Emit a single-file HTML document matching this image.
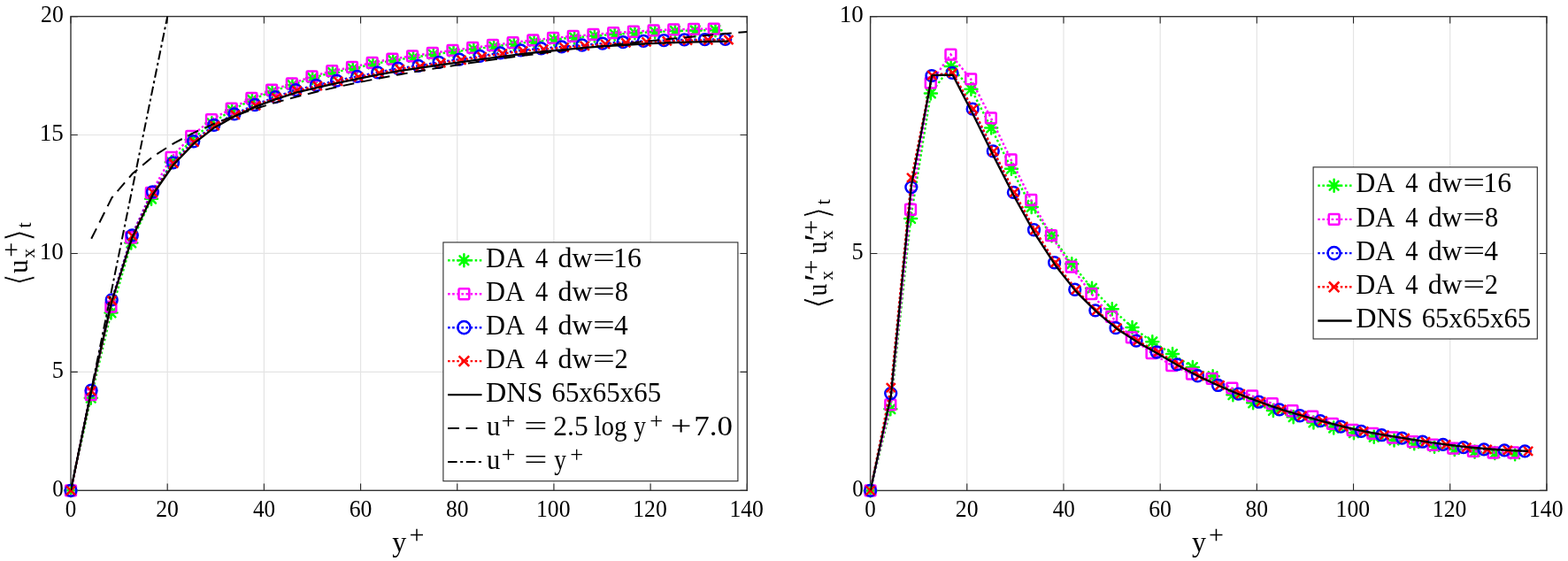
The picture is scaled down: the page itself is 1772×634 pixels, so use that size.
<!DOCTYPE html>
<html><head><meta charset="utf-8"><title>plots</title><style>html,body{margin:0;padding:0;background:#fff;}svg{display:block;}</style></head><body>
<svg width="1772" height="634" viewBox="0 0 1772 634">
<defs>
<clipPath id="clipL"><rect x="80" y="18.6" width="764.3" height="535.7"/></clipPath>
<clipPath id="clipR"><rect x="983.6" y="18.7" width="764.3" height="535.7"/></clipPath>
</defs>
<rect width="1772" height="634" fill="#fff"/>
<path d="M189.19 18.6V554.3M298.37 18.6V554.3M407.56 18.6V554.3M516.74 18.6V554.3M625.93 18.6V554.3M735.11 18.6V554.3M80 420.38H844.3M80 286.45H844.3M80 152.52H844.3" stroke="#e4e4e4" stroke-width="1.2" fill="none"/>
<path d="M80 554.3V546.5M80 18.6V26.4M189.19 554.3V546.5M189.19 18.6V26.4M298.37 554.3V546.5M298.37 18.6V26.4M407.56 554.3V546.5M407.56 18.6V26.4M516.74 554.3V546.5M516.74 18.6V26.4M625.93 554.3V546.5M625.93 18.6V26.4M735.11 554.3V546.5M735.11 18.6V26.4M844.3 554.3V546.5M844.3 18.6V26.4M80 554.3H87.8M844.3 554.3H836.5M80 420.38H87.8M844.3 420.38H836.5M80 286.45H87.8M844.3 286.45H836.5M80 152.52H87.8M844.3 152.52H836.5M80 18.6H87.8M844.3 18.6H836.5" stroke="#262626" stroke-width="1.1" fill="none"/>
<rect x="80" y="18.6" width="764.3" height="535.7" fill="none" stroke="#333" stroke-width="1.4"/>
<path d="M80 554.3L102.77 449.84L125.53 353.41L148.3 274.4L171.06 224.84L193.83 183.33L216.59 157.88L239.36 139.13L262.12 124.4L284.89 112.62L307.65 103.24L330.42 96.01L353.18 87.97L375.95 81.81L398.71 77.53L421.48 72.44L444.24 68.15L467.01 64.94L489.77 61.46L512.54 58.51L535.3 55.56L558.07 52.62L580.83 49.67L603.6 46.99L626.37 44.58L649.13 42.44L671.9 40.56L694.66 38.69L717.43 37.35L740.19 36.01L762.96 34.94L785.72 34.4L808.49 34.14" fill="none" stroke="#00ff00" stroke-width="2.4" stroke-dasharray="2.5 2.6" clip-path="url(#clipL)"/>
<path d="M80 547.3V561.3M73 554.3H87M75.1 549.4L84.9 559.2M75.1 559.2L84.9 549.4" stroke="#00ff00" stroke-width="2.5" stroke-linecap="round" fill="none"/>
<path d="M102.77 442.84V456.84M95.77 449.84H109.77M97.87 444.94L107.67 454.74M97.87 454.74L107.67 444.94" stroke="#00ff00" stroke-width="2.5" stroke-linecap="round" fill="none"/>
<path d="M125.53 346.41V360.41M118.53 353.41H132.53M120.63 348.51L130.43 358.31M120.63 358.31L130.43 348.51" stroke="#00ff00" stroke-width="2.5" stroke-linecap="round" fill="none"/>
<path d="M148.3 267.4V281.4M141.3 274.4H155.3M143.4 269.5L153.2 279.3M143.4 279.3L153.2 269.5" stroke="#00ff00" stroke-width="2.5" stroke-linecap="round" fill="none"/>
<path d="M171.06 217.84V231.84M164.06 224.84H178.06M166.16 219.94L175.96 229.74M166.16 229.74L175.96 219.94" stroke="#00ff00" stroke-width="2.5" stroke-linecap="round" fill="none"/>
<path d="M193.83 176.33V190.33M186.83 183.33H200.83M188.93 178.43L198.73 188.23M188.93 188.23L198.73 178.43" stroke="#00ff00" stroke-width="2.5" stroke-linecap="round" fill="none"/>
<path d="M216.59 150.88V164.88M209.59 157.88H223.59M211.69 152.98L221.49 162.78M211.69 162.78L221.49 152.98" stroke="#00ff00" stroke-width="2.5" stroke-linecap="round" fill="none"/>
<path d="M239.36 132.13V146.13M232.36 139.13H246.36M234.46 134.23L244.26 144.03M234.46 144.03L244.26 134.23" stroke="#00ff00" stroke-width="2.5" stroke-linecap="round" fill="none"/>
<path d="M262.12 117.4V131.4M255.12 124.4H269.12M257.22 119.5L267.02 129.3M257.22 129.3L267.02 119.5" stroke="#00ff00" stroke-width="2.5" stroke-linecap="round" fill="none"/>
<path d="M284.89 105.62V119.62M277.89 112.62H291.89M279.99 107.72L289.79 117.52M279.99 117.52L289.79 107.72" stroke="#00ff00" stroke-width="2.5" stroke-linecap="round" fill="none"/>
<path d="M307.65 96.24V110.24M300.65 103.24H314.65M302.75 98.34L312.55 108.14M302.75 108.14L312.55 98.34" stroke="#00ff00" stroke-width="2.5" stroke-linecap="round" fill="none"/>
<path d="M330.42 89.01V103.01M323.42 96.01H337.42M325.52 91.11L335.32 100.91M325.52 100.91L335.32 91.11" stroke="#00ff00" stroke-width="2.5" stroke-linecap="round" fill="none"/>
<path d="M353.18 80.97V94.97M346.18 87.97H360.18M348.28 83.07L358.08 92.87M348.28 92.87L358.08 83.07" stroke="#00ff00" stroke-width="2.5" stroke-linecap="round" fill="none"/>
<path d="M375.95 74.81V88.81M368.95 81.81H382.95M371.05 76.91L380.85 86.71M371.05 86.71L380.85 76.91" stroke="#00ff00" stroke-width="2.5" stroke-linecap="round" fill="none"/>
<path d="M398.71 70.53V84.53M391.71 77.53H405.71M393.81 72.63L403.61 82.43M393.81 82.43L403.61 72.63" stroke="#00ff00" stroke-width="2.5" stroke-linecap="round" fill="none"/>
<path d="M421.48 65.44V79.44M414.48 72.44H428.48M416.58 67.54L426.38 77.34M416.58 77.34L426.38 67.54" stroke="#00ff00" stroke-width="2.5" stroke-linecap="round" fill="none"/>
<path d="M444.24 61.15V75.15M437.24 68.15H451.24M439.34 63.25L449.14 73.05M439.34 73.05L449.14 63.25" stroke="#00ff00" stroke-width="2.5" stroke-linecap="round" fill="none"/>
<path d="M467.01 57.94V71.94M460.01 64.94H474.01M462.11 60.04L471.91 69.84M462.11 69.84L471.91 60.04" stroke="#00ff00" stroke-width="2.5" stroke-linecap="round" fill="none"/>
<path d="M489.77 54.46V68.46M482.77 61.46H496.77M484.87 56.56L494.67 66.36M484.87 66.36L494.67 56.56" stroke="#00ff00" stroke-width="2.5" stroke-linecap="round" fill="none"/>
<path d="M512.54 51.51V65.51M505.54 58.51H519.54M507.64 53.61L517.44 63.41M507.64 63.41L517.44 53.61" stroke="#00ff00" stroke-width="2.5" stroke-linecap="round" fill="none"/>
<path d="M535.3 48.56V62.56M528.3 55.56H542.3M530.4 50.66L540.2 60.46M530.4 60.46L540.2 50.66" stroke="#00ff00" stroke-width="2.5" stroke-linecap="round" fill="none"/>
<path d="M558.07 45.62V59.62M551.07 52.62H565.07M553.17 47.72L562.97 57.52M553.17 57.52L562.97 47.72" stroke="#00ff00" stroke-width="2.5" stroke-linecap="round" fill="none"/>
<path d="M580.83 42.67V56.67M573.83 49.67H587.83M575.93 44.77L585.73 54.57M575.93 54.57L585.73 44.77" stroke="#00ff00" stroke-width="2.5" stroke-linecap="round" fill="none"/>
<path d="M603.6 39.99V53.99M596.6 46.99H610.6M598.7 42.09L608.5 51.89M598.7 51.89L608.5 42.09" stroke="#00ff00" stroke-width="2.5" stroke-linecap="round" fill="none"/>
<path d="M626.37 37.58V51.58M619.37 44.58H633.37M621.47 39.68L631.27 49.48M621.47 49.48L631.27 39.68" stroke="#00ff00" stroke-width="2.5" stroke-linecap="round" fill="none"/>
<path d="M649.13 35.44V49.44M642.13 42.44H656.13M644.23 37.54L654.03 47.34M644.23 47.34L654.03 37.54" stroke="#00ff00" stroke-width="2.5" stroke-linecap="round" fill="none"/>
<path d="M671.9 33.56V47.56M664.9 40.56H678.9M667 35.66L676.8 45.46M667 45.46L676.8 35.66" stroke="#00ff00" stroke-width="2.5" stroke-linecap="round" fill="none"/>
<path d="M694.66 31.69V45.69M687.66 38.69H701.66M689.76 33.79L699.56 43.59M689.76 43.59L699.56 33.79" stroke="#00ff00" stroke-width="2.5" stroke-linecap="round" fill="none"/>
<path d="M717.43 30.35V44.35M710.43 37.35H724.43M712.53 32.45L722.33 42.25M712.53 42.25L722.33 32.45" stroke="#00ff00" stroke-width="2.5" stroke-linecap="round" fill="none"/>
<path d="M740.19 29.01V43.01M733.19 36.01H747.19M735.29 31.11L745.09 40.91M735.29 40.91L745.09 31.11" stroke="#00ff00" stroke-width="2.5" stroke-linecap="round" fill="none"/>
<path d="M762.96 27.94V41.94M755.96 34.94H769.96M758.06 30.04L767.86 39.84M758.06 39.84L767.86 30.04" stroke="#00ff00" stroke-width="2.5" stroke-linecap="round" fill="none"/>
<path d="M785.72 27.4V41.4M778.72 34.4H792.72M780.82 29.5L790.62 39.3M780.82 39.3L790.62 29.5" stroke="#00ff00" stroke-width="2.5" stroke-linecap="round" fill="none"/>
<path d="M808.49 27.14V41.14M801.49 34.14H815.49M803.59 29.24L813.39 39.04M803.59 39.04L813.39 29.24" stroke="#00ff00" stroke-width="2.5" stroke-linecap="round" fill="none"/>
<path d="M80 554.3L102.71 446.09L125.42 346.72L148.13 268.24L170.84 217.88L193.55 177.97L216.26 153.86L238.97 135.11L261.69 122.53L284.4 111.01L307.11 101.63L329.82 94.4L352.53 86.37L375.24 80.21L397.95 75.92L420.66 70.83L443.37 66.55L466.08 63.33L488.79 59.85L511.5 56.9L534.21 53.96L556.92 51.01L579.63 48.06L602.34 45.38L625.06 42.97L647.77 40.83L670.48 38.96L693.19 37.08L715.9 35.74L738.61 34.4L761.32 33.33L784.03 32.8L806.74 32.53" fill="none" stroke="#ff00ff" stroke-width="2.4" stroke-dasharray="2.5 2.6" clip-path="url(#clipL)"/>
<rect x="74.1" y="548.4" width="11.8" height="11.8" rx="1" fill="none" stroke="#ff00ff" stroke-width="2.5"/>
<rect x="96.81" y="440.19" width="11.8" height="11.8" rx="1" fill="none" stroke="#ff00ff" stroke-width="2.5"/>
<rect x="119.52" y="340.82" width="11.8" height="11.8" rx="1" fill="none" stroke="#ff00ff" stroke-width="2.5"/>
<rect x="142.23" y="262.34" width="11.8" height="11.8" rx="1" fill="none" stroke="#ff00ff" stroke-width="2.5"/>
<rect x="164.94" y="211.98" width="11.8" height="11.8" rx="1" fill="none" stroke="#ff00ff" stroke-width="2.5"/>
<rect x="187.65" y="172.07" width="11.8" height="11.8" rx="1" fill="none" stroke="#ff00ff" stroke-width="2.5"/>
<rect x="210.36" y="147.96" width="11.8" height="11.8" rx="1" fill="none" stroke="#ff00ff" stroke-width="2.5"/>
<rect x="233.07" y="129.21" width="11.8" height="11.8" rx="1" fill="none" stroke="#ff00ff" stroke-width="2.5"/>
<rect x="255.79" y="116.63" width="11.8" height="11.8" rx="1" fill="none" stroke="#ff00ff" stroke-width="2.5"/>
<rect x="278.5" y="105.11" width="11.8" height="11.8" rx="1" fill="none" stroke="#ff00ff" stroke-width="2.5"/>
<rect x="301.21" y="95.73" width="11.8" height="11.8" rx="1" fill="none" stroke="#ff00ff" stroke-width="2.5"/>
<rect x="323.92" y="88.5" width="11.8" height="11.8" rx="1" fill="none" stroke="#ff00ff" stroke-width="2.5"/>
<rect x="346.63" y="80.47" width="11.8" height="11.8" rx="1" fill="none" stroke="#ff00ff" stroke-width="2.5"/>
<rect x="369.34" y="74.31" width="11.8" height="11.8" rx="1" fill="none" stroke="#ff00ff" stroke-width="2.5"/>
<rect x="392.05" y="70.02" width="11.8" height="11.8" rx="1" fill="none" stroke="#ff00ff" stroke-width="2.5"/>
<rect x="414.76" y="64.93" width="11.8" height="11.8" rx="1" fill="none" stroke="#ff00ff" stroke-width="2.5"/>
<rect x="437.47" y="60.65" width="11.8" height="11.8" rx="1" fill="none" stroke="#ff00ff" stroke-width="2.5"/>
<rect x="460.18" y="57.43" width="11.8" height="11.8" rx="1" fill="none" stroke="#ff00ff" stroke-width="2.5"/>
<rect x="482.89" y="53.95" width="11.8" height="11.8" rx="1" fill="none" stroke="#ff00ff" stroke-width="2.5"/>
<rect x="505.6" y="51" width="11.8" height="11.8" rx="1" fill="none" stroke="#ff00ff" stroke-width="2.5"/>
<rect x="528.31" y="48.06" width="11.8" height="11.8" rx="1" fill="none" stroke="#ff00ff" stroke-width="2.5"/>
<rect x="551.02" y="45.11" width="11.8" height="11.8" rx="1" fill="none" stroke="#ff00ff" stroke-width="2.5"/>
<rect x="573.73" y="42.16" width="11.8" height="11.8" rx="1" fill="none" stroke="#ff00ff" stroke-width="2.5"/>
<rect x="596.44" y="39.48" width="11.8" height="11.8" rx="1" fill="none" stroke="#ff00ff" stroke-width="2.5"/>
<rect x="619.16" y="37.07" width="11.8" height="11.8" rx="1" fill="none" stroke="#ff00ff" stroke-width="2.5"/>
<rect x="641.87" y="34.93" width="11.8" height="11.8" rx="1" fill="none" stroke="#ff00ff" stroke-width="2.5"/>
<rect x="664.58" y="33.06" width="11.8" height="11.8" rx="1" fill="none" stroke="#ff00ff" stroke-width="2.5"/>
<rect x="687.29" y="31.18" width="11.8" height="11.8" rx="1" fill="none" stroke="#ff00ff" stroke-width="2.5"/>
<rect x="710" y="29.84" width="11.8" height="11.8" rx="1" fill="none" stroke="#ff00ff" stroke-width="2.5"/>
<rect x="732.71" y="28.5" width="11.8" height="11.8" rx="1" fill="none" stroke="#ff00ff" stroke-width="2.5"/>
<rect x="755.42" y="27.43" width="11.8" height="11.8" rx="1" fill="none" stroke="#ff00ff" stroke-width="2.5"/>
<rect x="778.13" y="26.9" width="11.8" height="11.8" rx="1" fill="none" stroke="#ff00ff" stroke-width="2.5"/>
<rect x="800.84" y="26.63" width="11.8" height="11.8" rx="1" fill="none" stroke="#ff00ff" stroke-width="2.5"/>
<path d="M80 554.3L103.11 441.27L126.23 338.95L149.34 265.83L172.46 216.81L195.57 183.86L218.69 159.76L241.8 141.28L264.92 128.95L288.03 118.51L311.15 109.67L334.26 101.63L357.38 96.28L380.49 91.19L403.6 86.37L426.72 81.81L449.83 77.26L472.95 74.31L496.06 70.3L519.18 67.08L542.29 63.33L565.41 59.85L588.52 56.9L611.64 54.76L634.75 52.88L657.87 51.01L680.98 49.13L704.09 47.53L727.21 46.46L750.32 45.65L773.44 44.85L796.55 44.58L819.67 44.31" fill="none" stroke="#0000ff" stroke-width="2.4" stroke-dasharray="2.5 2.6" clip-path="url(#clipL)"/>
<circle cx="80" cy="554.3" r="6.4" fill="none" stroke="#0000ff" stroke-width="2.5"/>
<circle cx="103.11" cy="441.27" r="6.4" fill="none" stroke="#0000ff" stroke-width="2.5"/>
<circle cx="126.23" cy="338.95" r="6.4" fill="none" stroke="#0000ff" stroke-width="2.5"/>
<circle cx="149.34" cy="265.83" r="6.4" fill="none" stroke="#0000ff" stroke-width="2.5"/>
<circle cx="172.46" cy="216.81" r="6.4" fill="none" stroke="#0000ff" stroke-width="2.5"/>
<circle cx="195.57" cy="183.86" r="6.4" fill="none" stroke="#0000ff" stroke-width="2.5"/>
<circle cx="218.69" cy="159.76" r="6.4" fill="none" stroke="#0000ff" stroke-width="2.5"/>
<circle cx="241.8" cy="141.28" r="6.4" fill="none" stroke="#0000ff" stroke-width="2.5"/>
<circle cx="264.92" cy="128.95" r="6.4" fill="none" stroke="#0000ff" stroke-width="2.5"/>
<circle cx="288.03" cy="118.51" r="6.4" fill="none" stroke="#0000ff" stroke-width="2.5"/>
<circle cx="311.15" cy="109.67" r="6.4" fill="none" stroke="#0000ff" stroke-width="2.5"/>
<circle cx="334.26" cy="101.63" r="6.4" fill="none" stroke="#0000ff" stroke-width="2.5"/>
<circle cx="357.38" cy="96.28" r="6.4" fill="none" stroke="#0000ff" stroke-width="2.5"/>
<circle cx="380.49" cy="91.19" r="6.4" fill="none" stroke="#0000ff" stroke-width="2.5"/>
<circle cx="403.6" cy="86.37" r="6.4" fill="none" stroke="#0000ff" stroke-width="2.5"/>
<circle cx="426.72" cy="81.81" r="6.4" fill="none" stroke="#0000ff" stroke-width="2.5"/>
<circle cx="449.83" cy="77.26" r="6.4" fill="none" stroke="#0000ff" stroke-width="2.5"/>
<circle cx="472.95" cy="74.31" r="6.4" fill="none" stroke="#0000ff" stroke-width="2.5"/>
<circle cx="496.06" cy="70.3" r="6.4" fill="none" stroke="#0000ff" stroke-width="2.5"/>
<circle cx="519.18" cy="67.08" r="6.4" fill="none" stroke="#0000ff" stroke-width="2.5"/>
<circle cx="542.29" cy="63.33" r="6.4" fill="none" stroke="#0000ff" stroke-width="2.5"/>
<circle cx="565.41" cy="59.85" r="6.4" fill="none" stroke="#0000ff" stroke-width="2.5"/>
<circle cx="588.52" cy="56.9" r="6.4" fill="none" stroke="#0000ff" stroke-width="2.5"/>
<circle cx="611.64" cy="54.76" r="6.4" fill="none" stroke="#0000ff" stroke-width="2.5"/>
<circle cx="634.75" cy="52.88" r="6.4" fill="none" stroke="#0000ff" stroke-width="2.5"/>
<circle cx="657.87" cy="51.01" r="6.4" fill="none" stroke="#0000ff" stroke-width="2.5"/>
<circle cx="680.98" cy="49.13" r="6.4" fill="none" stroke="#0000ff" stroke-width="2.5"/>
<circle cx="704.09" cy="47.53" r="6.4" fill="none" stroke="#0000ff" stroke-width="2.5"/>
<circle cx="727.21" cy="46.46" r="6.4" fill="none" stroke="#0000ff" stroke-width="2.5"/>
<circle cx="750.32" cy="45.65" r="6.4" fill="none" stroke="#0000ff" stroke-width="2.5"/>
<circle cx="773.44" cy="44.85" r="6.4" fill="none" stroke="#0000ff" stroke-width="2.5"/>
<circle cx="796.55" cy="44.58" r="6.4" fill="none" stroke="#0000ff" stroke-width="2.5"/>
<circle cx="819.67" cy="44.31" r="6.4" fill="none" stroke="#0000ff" stroke-width="2.5"/>
<path d="M80 554.3L103.23 441.8L126.47 339.75L149.7 266.63L172.94 217.61L196.17 184.67L219.41 160.56L242.64 142.08L265.88 129.76L289.11 119.31L312.35 110.47L335.58 102.44L358.82 97.08L382.05 91.99L405.29 87.17L428.52 82.62L451.76 78.06L474.99 75.12L498.22 71.1L521.46 67.88L544.69 64.13L567.93 60.65L591.16 57.71L614.4 55.56L637.63 53.69L660.87 51.81L684.1 49.94L707.34 48.33L730.57 47.26L753.81 46.46L777.04 45.65L800.28 45.38L823.51 45.12" fill="none" stroke="#ff0000" stroke-width="2.4" stroke-dasharray="2.5 2.6" clip-path="url(#clipL)"/>
<path d="M75 549.3L85 559.3M75 559.3L85 549.3" stroke="#ff0000" stroke-width="2.5" fill="none"/>
<path d="M98.23 436.8L108.23 446.8M98.23 446.8L108.23 436.8" stroke="#ff0000" stroke-width="2.5" fill="none"/>
<path d="M121.47 334.75L131.47 344.75M121.47 344.75L131.47 334.75" stroke="#ff0000" stroke-width="2.5" fill="none"/>
<path d="M144.7 261.63L154.7 271.63M144.7 271.63L154.7 261.63" stroke="#ff0000" stroke-width="2.5" fill="none"/>
<path d="M167.94 212.61L177.94 222.61M167.94 222.61L177.94 212.61" stroke="#ff0000" stroke-width="2.5" fill="none"/>
<path d="M191.17 179.67L201.17 189.67M191.17 189.67L201.17 179.67" stroke="#ff0000" stroke-width="2.5" fill="none"/>
<path d="M214.41 155.56L224.41 165.56M214.41 165.56L224.41 155.56" stroke="#ff0000" stroke-width="2.5" fill="none"/>
<path d="M237.64 137.08L247.64 147.08M237.64 147.08L247.64 137.08" stroke="#ff0000" stroke-width="2.5" fill="none"/>
<path d="M260.88 124.76L270.88 134.76M260.88 134.76L270.88 124.76" stroke="#ff0000" stroke-width="2.5" fill="none"/>
<path d="M284.11 114.31L294.11 124.31M284.11 124.31L294.11 114.31" stroke="#ff0000" stroke-width="2.5" fill="none"/>
<path d="M307.35 105.47L317.35 115.47M307.35 115.47L317.35 105.47" stroke="#ff0000" stroke-width="2.5" fill="none"/>
<path d="M330.58 97.44L340.58 107.44M330.58 107.44L340.58 97.44" stroke="#ff0000" stroke-width="2.5" fill="none"/>
<path d="M353.82 92.08L363.82 102.08M353.82 102.08L363.82 92.08" stroke="#ff0000" stroke-width="2.5" fill="none"/>
<path d="M377.05 86.99L387.05 96.99M377.05 96.99L387.05 86.99" stroke="#ff0000" stroke-width="2.5" fill="none"/>
<path d="M400.29 82.17L410.29 92.17M400.29 92.17L410.29 82.17" stroke="#ff0000" stroke-width="2.5" fill="none"/>
<path d="M423.52 77.62L433.52 87.62M423.52 87.62L433.52 77.62" stroke="#ff0000" stroke-width="2.5" fill="none"/>
<path d="M446.76 73.06L456.76 83.06M446.76 83.06L456.76 73.06" stroke="#ff0000" stroke-width="2.5" fill="none"/>
<path d="M469.99 70.12L479.99 80.12M469.99 80.12L479.99 70.12" stroke="#ff0000" stroke-width="2.5" fill="none"/>
<path d="M493.22 66.1L503.22 76.1M493.22 76.1L503.22 66.1" stroke="#ff0000" stroke-width="2.5" fill="none"/>
<path d="M516.46 62.88L526.46 72.88M516.46 72.88L526.46 62.88" stroke="#ff0000" stroke-width="2.5" fill="none"/>
<path d="M539.69 59.13L549.69 69.13M539.69 69.13L549.69 59.13" stroke="#ff0000" stroke-width="2.5" fill="none"/>
<path d="M562.93 55.65L572.93 65.65M562.93 65.65L572.93 55.65" stroke="#ff0000" stroke-width="2.5" fill="none"/>
<path d="M586.16 52.71L596.16 62.71M586.16 62.71L596.16 52.71" stroke="#ff0000" stroke-width="2.5" fill="none"/>
<path d="M609.4 50.56L619.4 60.56M609.4 60.56L619.4 50.56" stroke="#ff0000" stroke-width="2.5" fill="none"/>
<path d="M632.63 48.69L642.63 58.69M632.63 58.69L642.63 48.69" stroke="#ff0000" stroke-width="2.5" fill="none"/>
<path d="M655.87 46.81L665.87 56.81M655.87 56.81L665.87 46.81" stroke="#ff0000" stroke-width="2.5" fill="none"/>
<path d="M679.1 44.94L689.1 54.94M679.1 54.94L689.1 44.94" stroke="#ff0000" stroke-width="2.5" fill="none"/>
<path d="M702.34 43.33L712.34 53.33M702.34 53.33L712.34 43.33" stroke="#ff0000" stroke-width="2.5" fill="none"/>
<path d="M725.57 42.26L735.57 52.26M725.57 52.26L735.57 42.26" stroke="#ff0000" stroke-width="2.5" fill="none"/>
<path d="M748.81 41.46L758.81 51.46M748.81 51.46L758.81 41.46" stroke="#ff0000" stroke-width="2.5" fill="none"/>
<path d="M772.04 40.65L782.04 50.65M772.04 50.65L782.04 40.65" stroke="#ff0000" stroke-width="2.5" fill="none"/>
<path d="M795.28 40.38L805.28 50.38M795.28 50.38L805.28 40.38" stroke="#ff0000" stroke-width="2.5" fill="none"/>
<path d="M818.51 40.12L828.51 50.12M818.51 50.12L828.51 40.12" stroke="#ff0000" stroke-width="2.5" fill="none"/>
<path d="M80 554.3L103.23 441.8L126.47 340.02L149.7 267.7L172.94 219.49L196.17 186.01L219.41 161.9L242.64 143.95L265.88 131.1L289.11 120.38L312.35 111.81L335.58 104.31L358.82 98.95L382.05 93.6L405.29 88.78L428.52 84.22L451.76 80.21L474.99 76.72L498.22 73.24L521.46 70.03L544.69 66.81L567.93 63.87L591.16 60.92L614.4 58.24L637.63 56.1L660.87 53.96L684.1 52.08L707.34 50.74L730.57 49.4L753.81 48.33L777.04 47.53L800.28 46.99L823.51 46.72" fill="none" stroke="#000" stroke-width="2.3" stroke-linejoin="round" clip-path="url(#clipL)"/>
<path d="M103.23 269.82L126.47 223.41L149.7 196.26L172.94 176.99L196.17 162.05L219.41 149.84L242.64 139.52L265.88 130.58L289.11 122.69L312.35 115.63L335.58 109.25L358.82 103.43L382.05 98.07L405.29 93.1L428.52 88.48L451.76 84.16L474.99 80.1L498.22 76.27L521.46 72.65L544.69 69.22L567.93 65.95L591.16 62.84L614.4 59.86L637.63 57.01L660.87 54.28L684.1 51.65L707.34 49.12L730.57 46.69L753.81 44.34L777.04 42.07L800.28 39.87L823.51 37.75L844.3 35.9" fill="none" stroke="#000" stroke-width="2" stroke-dasharray="12.8 7.7" clip-path="url(#clipL)"/>
<path d="M80 554.3L191.92 5.21" fill="none" stroke="#000" stroke-width="2" stroke-dasharray="10.5 3.6 3 3.6" clip-path="url(#clipL)"/>
<text x="73.75" y="584" font-size="27" font-family="'Liberation Serif', serif" textLength="12.51" lengthAdjust="spacingAndGlyphs">0</text>
<text x="176.26" y="584" font-size="27" font-family="'Liberation Serif', serif" textLength="25.71" lengthAdjust="spacingAndGlyphs">20</text>
<text x="286.08" y="584" font-size="27" font-family="'Liberation Serif', serif" textLength="25.04" lengthAdjust="spacingAndGlyphs">40</text>
<text x="394.65" y="584" font-size="27" font-family="'Liberation Serif', serif" textLength="25.68" lengthAdjust="spacingAndGlyphs">60</text>
<text x="503.97" y="584" font-size="27" font-family="'Liberation Serif', serif" textLength="25.55" lengthAdjust="spacingAndGlyphs">80</text>
<text x="606.02" y="584" font-size="27" font-family="'Liberation Serif', serif" textLength="38.54" lengthAdjust="spacingAndGlyphs">100</text>
<text x="715.21" y="584" font-size="27" font-family="'Liberation Serif', serif" textLength="38.54" lengthAdjust="spacingAndGlyphs">120</text>
<text x="824.39" y="584" font-size="27" font-family="'Liberation Serif', serif" textLength="38.54" lengthAdjust="spacingAndGlyphs">140</text>
<text x="59.25" y="560.9" font-size="27" font-family="'Liberation Serif', serif" textLength="12.51" lengthAdjust="spacingAndGlyphs">0</text>
<text x="58.67" y="426.98" font-size="27" font-family="'Liberation Serif', serif" textLength="13.16" lengthAdjust="spacingAndGlyphs">5</text>
<text x="44.83" y="293.05" font-size="27" font-family="'Liberation Serif', serif" textLength="27" lengthAdjust="spacingAndGlyphs">10</text>
<text x="44.82" y="159.12" font-size="27" font-family="'Liberation Serif', serif" textLength="27.03" lengthAdjust="spacingAndGlyphs">15</text>
<text x="46.07" y="25.2" font-size="27" font-family="'Liberation Serif', serif" textLength="25.71" lengthAdjust="spacingAndGlyphs">20</text>
<path d="M1092.79 18.7V554.4M1201.97 18.7V554.4M1311.16 18.7V554.4M1420.34 18.7V554.4M1529.53 18.7V554.4M1638.71 18.7V554.4M983.6 286.55H1747.9" stroke="#e4e4e4" stroke-width="1.2" fill="none"/>
<path d="M983.6 554.4V546.6M983.6 18.7V26.5M1092.79 554.4V546.6M1092.79 18.7V26.5M1201.97 554.4V546.6M1201.97 18.7V26.5M1311.16 554.4V546.6M1311.16 18.7V26.5M1420.34 554.4V546.6M1420.34 18.7V26.5M1529.53 554.4V546.6M1529.53 18.7V26.5M1638.71 554.4V546.6M1638.71 18.7V26.5M1747.9 554.4V546.6M1747.9 18.7V26.5M983.6 554.4H991.4M1747.9 554.4H1740.1M983.6 286.55H991.4M1747.9 286.55H1740.1M983.6 18.7H991.4M1747.9 18.7H1740.1" stroke="#262626" stroke-width="1.1" fill="none"/>
<rect x="983.6" y="18.7" width="764.3" height="535.7" fill="none" stroke="#333" stroke-width="1.4"/>
<path d="M983.6 554.4L1006.37 462.26L1029.13 246.91L1051.9 105.48L1074.66 74.95L1097.43 100.66L1120.19 144.59L1142.96 190.66L1165.72 234.05L1188.49 266.19L1211.25 298.34L1234.02 325.66L1256.78 349.23L1279.55 370.12L1302.31 386.19L1325.08 400.12L1347.84 415.12L1370.61 425.3L1393.37 446.24L1416.14 455.36L1438.9 463.95L1461.67 471.3L1484.43 477.44L1507.2 483.6L1529.97 489.24L1552.73 493.85L1575.5 497.59L1598.26 501.33L1621.03 504.83L1643.79 507.99L1666.56 510.57L1689.32 512.11L1712.09 513.17" fill="none" stroke="#00ff00" stroke-width="2.4" stroke-dasharray="2.5 2.6" clip-path="url(#clipR)"/>
<path d="M983.6 547.4V561.4M976.6 554.4H990.6M978.7 549.5L988.5 559.3M978.7 559.3L988.5 549.5" stroke="#00ff00" stroke-width="2.5" stroke-linecap="round" fill="none"/>
<path d="M1006.37 455.26V469.26M999.37 462.26H1013.37M1001.47 457.36L1011.27 467.16M1001.47 467.16L1011.27 457.36" stroke="#00ff00" stroke-width="2.5" stroke-linecap="round" fill="none"/>
<path d="M1029.13 239.91V253.91M1022.13 246.91H1036.13M1024.23 242.01L1034.03 251.81M1024.23 251.81L1034.03 242.01" stroke="#00ff00" stroke-width="2.5" stroke-linecap="round" fill="none"/>
<path d="M1051.9 98.48V112.48M1044.9 105.48H1058.9M1047 100.58L1056.8 110.38M1047 110.38L1056.8 100.58" stroke="#00ff00" stroke-width="2.5" stroke-linecap="round" fill="none"/>
<path d="M1074.66 67.95V81.95M1067.66 74.95H1081.66M1069.76 70.05L1079.56 79.85M1069.76 79.85L1079.56 70.05" stroke="#00ff00" stroke-width="2.5" stroke-linecap="round" fill="none"/>
<path d="M1097.43 93.66V107.66M1090.43 100.66H1104.43M1092.53 95.76L1102.33 105.56M1092.53 105.56L1102.33 95.76" stroke="#00ff00" stroke-width="2.5" stroke-linecap="round" fill="none"/>
<path d="M1120.19 137.59V151.59M1113.19 144.59H1127.19M1115.29 139.69L1125.09 149.49M1115.29 149.49L1125.09 139.69" stroke="#00ff00" stroke-width="2.5" stroke-linecap="round" fill="none"/>
<path d="M1142.96 183.66V197.66M1135.96 190.66H1149.96M1138.06 185.76L1147.86 195.56M1138.06 195.56L1147.86 185.76" stroke="#00ff00" stroke-width="2.5" stroke-linecap="round" fill="none"/>
<path d="M1165.72 227.05V241.05M1158.72 234.05H1172.72M1160.82 229.15L1170.62 238.95M1160.82 238.95L1170.62 229.15" stroke="#00ff00" stroke-width="2.5" stroke-linecap="round" fill="none"/>
<path d="M1188.49 259.19V273.19M1181.49 266.19H1195.49M1183.59 261.29L1193.39 271.09M1183.59 271.09L1193.39 261.29" stroke="#00ff00" stroke-width="2.5" stroke-linecap="round" fill="none"/>
<path d="M1211.25 291.34V305.34M1204.25 298.34H1218.25M1206.35 293.44L1216.15 303.24M1206.35 303.24L1216.15 293.44" stroke="#00ff00" stroke-width="2.5" stroke-linecap="round" fill="none"/>
<path d="M1234.02 318.66V332.66M1227.02 325.66H1241.02M1229.12 320.76L1238.92 330.56M1229.12 330.56L1238.92 320.76" stroke="#00ff00" stroke-width="2.5" stroke-linecap="round" fill="none"/>
<path d="M1256.78 342.23V356.23M1249.78 349.23H1263.78M1251.88 344.33L1261.68 354.13M1251.88 354.13L1261.68 344.33" stroke="#00ff00" stroke-width="2.5" stroke-linecap="round" fill="none"/>
<path d="M1279.55 363.12V377.12M1272.55 370.12H1286.55M1274.65 365.22L1284.45 375.02M1274.65 375.02L1284.45 365.22" stroke="#00ff00" stroke-width="2.5" stroke-linecap="round" fill="none"/>
<path d="M1302.31 379.19V393.19M1295.31 386.19H1309.31M1297.41 381.29L1307.21 391.09M1297.41 391.09L1307.21 381.29" stroke="#00ff00" stroke-width="2.5" stroke-linecap="round" fill="none"/>
<path d="M1325.08 393.12V407.12M1318.08 400.12H1332.08M1320.18 395.22L1329.98 405.02M1320.18 405.02L1329.98 395.22" stroke="#00ff00" stroke-width="2.5" stroke-linecap="round" fill="none"/>
<path d="M1347.84 408.12V422.12M1340.84 415.12H1354.84M1342.94 410.22L1352.74 420.02M1342.94 420.02L1352.74 410.22" stroke="#00ff00" stroke-width="2.5" stroke-linecap="round" fill="none"/>
<path d="M1370.61 418.3V432.3M1363.61 425.3H1377.61M1365.71 420.4L1375.51 430.2M1365.71 430.2L1375.51 420.4" stroke="#00ff00" stroke-width="2.5" stroke-linecap="round" fill="none"/>
<path d="M1393.37 439.24V453.24M1386.37 446.24H1400.37M1388.47 441.34L1398.27 451.14M1388.47 451.14L1398.27 441.34" stroke="#00ff00" stroke-width="2.5" stroke-linecap="round" fill="none"/>
<path d="M1416.14 448.36V462.36M1409.14 455.36H1423.14M1411.24 450.46L1421.04 460.26M1411.24 460.26L1421.04 450.46" stroke="#00ff00" stroke-width="2.5" stroke-linecap="round" fill="none"/>
<path d="M1438.9 456.95V470.95M1431.9 463.95H1445.9M1434 459.05L1443.8 468.85M1434 468.85L1443.8 459.05" stroke="#00ff00" stroke-width="2.5" stroke-linecap="round" fill="none"/>
<path d="M1461.67 464.3V478.3M1454.67 471.3H1468.67M1456.77 466.4L1466.57 476.2M1456.77 476.2L1466.57 466.4" stroke="#00ff00" stroke-width="2.5" stroke-linecap="round" fill="none"/>
<path d="M1484.43 470.44V484.44M1477.43 477.44H1491.43M1479.53 472.54L1489.33 482.34M1479.53 482.34L1489.33 472.54" stroke="#00ff00" stroke-width="2.5" stroke-linecap="round" fill="none"/>
<path d="M1507.2 476.6V490.6M1500.2 483.6H1514.2M1502.3 478.7L1512.1 488.5M1502.3 488.5L1512.1 478.7" stroke="#00ff00" stroke-width="2.5" stroke-linecap="round" fill="none"/>
<path d="M1529.97 482.24V496.24M1522.97 489.24H1536.97M1525.07 484.34L1534.87 494.14M1525.07 494.14L1534.87 484.34" stroke="#00ff00" stroke-width="2.5" stroke-linecap="round" fill="none"/>
<path d="M1552.73 486.85V500.85M1545.73 493.85H1559.73M1547.83 488.95L1557.63 498.75M1547.83 498.75L1557.63 488.95" stroke="#00ff00" stroke-width="2.5" stroke-linecap="round" fill="none"/>
<path d="M1575.5 490.59V504.59M1568.5 497.59H1582.5M1570.6 492.69L1580.4 502.49M1570.6 502.49L1580.4 492.69" stroke="#00ff00" stroke-width="2.5" stroke-linecap="round" fill="none"/>
<path d="M1598.26 494.33V508.33M1591.26 501.33H1605.26M1593.36 496.43L1603.16 506.23M1593.36 506.23L1603.16 496.43" stroke="#00ff00" stroke-width="2.5" stroke-linecap="round" fill="none"/>
<path d="M1621.03 497.83V511.83M1614.03 504.83H1628.03M1616.13 499.93L1625.93 509.73M1616.13 509.73L1625.93 499.93" stroke="#00ff00" stroke-width="2.5" stroke-linecap="round" fill="none"/>
<path d="M1643.79 500.99V514.99M1636.79 507.99H1650.79M1638.89 503.09L1648.69 512.89M1638.89 512.89L1648.69 503.09" stroke="#00ff00" stroke-width="2.5" stroke-linecap="round" fill="none"/>
<path d="M1666.56 503.57V517.57M1659.56 510.57H1673.56M1661.66 505.67L1671.46 515.47M1661.66 515.47L1671.46 505.67" stroke="#00ff00" stroke-width="2.5" stroke-linecap="round" fill="none"/>
<path d="M1689.32 505.11V519.11M1682.32 512.11H1696.32M1684.42 507.21L1694.22 517.01M1684.42 517.01L1694.22 507.21" stroke="#00ff00" stroke-width="2.5" stroke-linecap="round" fill="none"/>
<path d="M1712.09 506.17V520.17M1705.09 513.17H1719.09M1707.19 508.27L1716.99 518.07M1707.19 518.07L1716.99 508.27" stroke="#00ff00" stroke-width="2.5" stroke-linecap="round" fill="none"/>
<path d="M983.6 554.4L1006.31 457.44L1029.02 236.73L1051.73 93.7L1074.44 61.56L1097.15 89.41L1119.86 133.34L1142.57 180.48L1165.29 226.02L1188 266.19L1210.71 301.55L1233.42 332.08L1256.13 357.8L1278.84 381.37L1301.55 399.05L1324.26 412.98L1346.97 422.62L1369.68 427.97L1392.39 438.6L1415.1 447.45L1437.81 456.05L1460.52 464.26L1483.23 470.71L1505.94 478.96L1528.66 485.99L1551.37 489.85L1574.08 494.48L1596.79 499.2L1619.5 502.74L1642.21 506.7L1664.92 509.88L1687.63 511.5L1710.34 511.48" fill="none" stroke="#ff00ff" stroke-width="2.4" stroke-dasharray="2.5 2.6" clip-path="url(#clipR)"/>
<rect x="977.7" y="548.5" width="11.8" height="11.8" rx="1" fill="none" stroke="#ff00ff" stroke-width="2.5"/>
<rect x="1000.41" y="451.54" width="11.8" height="11.8" rx="1" fill="none" stroke="#ff00ff" stroke-width="2.5"/>
<rect x="1023.12" y="230.83" width="11.8" height="11.8" rx="1" fill="none" stroke="#ff00ff" stroke-width="2.5"/>
<rect x="1045.83" y="87.8" width="11.8" height="11.8" rx="1" fill="none" stroke="#ff00ff" stroke-width="2.5"/>
<rect x="1068.54" y="55.66" width="11.8" height="11.8" rx="1" fill="none" stroke="#ff00ff" stroke-width="2.5"/>
<rect x="1091.25" y="83.51" width="11.8" height="11.8" rx="1" fill="none" stroke="#ff00ff" stroke-width="2.5"/>
<rect x="1113.96" y="127.44" width="11.8" height="11.8" rx="1" fill="none" stroke="#ff00ff" stroke-width="2.5"/>
<rect x="1136.67" y="174.58" width="11.8" height="11.8" rx="1" fill="none" stroke="#ff00ff" stroke-width="2.5"/>
<rect x="1159.39" y="220.12" width="11.8" height="11.8" rx="1" fill="none" stroke="#ff00ff" stroke-width="2.5"/>
<rect x="1182.1" y="260.29" width="11.8" height="11.8" rx="1" fill="none" stroke="#ff00ff" stroke-width="2.5"/>
<rect x="1204.81" y="295.65" width="11.8" height="11.8" rx="1" fill="none" stroke="#ff00ff" stroke-width="2.5"/>
<rect x="1227.52" y="326.18" width="11.8" height="11.8" rx="1" fill="none" stroke="#ff00ff" stroke-width="2.5"/>
<rect x="1250.23" y="351.9" width="11.8" height="11.8" rx="1" fill="none" stroke="#ff00ff" stroke-width="2.5"/>
<rect x="1272.94" y="375.47" width="11.8" height="11.8" rx="1" fill="none" stroke="#ff00ff" stroke-width="2.5"/>
<rect x="1295.65" y="393.15" width="11.8" height="11.8" rx="1" fill="none" stroke="#ff00ff" stroke-width="2.5"/>
<rect x="1318.36" y="407.08" width="11.8" height="11.8" rx="1" fill="none" stroke="#ff00ff" stroke-width="2.5"/>
<rect x="1341.07" y="416.72" width="11.8" height="11.8" rx="1" fill="none" stroke="#ff00ff" stroke-width="2.5"/>
<rect x="1363.78" y="422.07" width="11.8" height="11.8" rx="1" fill="none" stroke="#ff00ff" stroke-width="2.5"/>
<rect x="1386.49" y="432.7" width="11.8" height="11.8" rx="1" fill="none" stroke="#ff00ff" stroke-width="2.5"/>
<rect x="1409.2" y="441.55" width="11.8" height="11.8" rx="1" fill="none" stroke="#ff00ff" stroke-width="2.5"/>
<rect x="1431.91" y="450.15" width="11.8" height="11.8" rx="1" fill="none" stroke="#ff00ff" stroke-width="2.5"/>
<rect x="1454.62" y="458.36" width="11.8" height="11.8" rx="1" fill="none" stroke="#ff00ff" stroke-width="2.5"/>
<rect x="1477.33" y="464.81" width="11.8" height="11.8" rx="1" fill="none" stroke="#ff00ff" stroke-width="2.5"/>
<rect x="1500.04" y="473.06" width="11.8" height="11.8" rx="1" fill="none" stroke="#ff00ff" stroke-width="2.5"/>
<rect x="1522.76" y="480.09" width="11.8" height="11.8" rx="1" fill="none" stroke="#ff00ff" stroke-width="2.5"/>
<rect x="1545.47" y="483.95" width="11.8" height="11.8" rx="1" fill="none" stroke="#ff00ff" stroke-width="2.5"/>
<rect x="1568.18" y="488.58" width="11.8" height="11.8" rx="1" fill="none" stroke="#ff00ff" stroke-width="2.5"/>
<rect x="1590.89" y="493.3" width="11.8" height="11.8" rx="1" fill="none" stroke="#ff00ff" stroke-width="2.5"/>
<rect x="1613.6" y="496.84" width="11.8" height="11.8" rx="1" fill="none" stroke="#ff00ff" stroke-width="2.5"/>
<rect x="1636.31" y="500.8" width="11.8" height="11.8" rx="1" fill="none" stroke="#ff00ff" stroke-width="2.5"/>
<rect x="1659.02" y="503.98" width="11.8" height="11.8" rx="1" fill="none" stroke="#ff00ff" stroke-width="2.5"/>
<rect x="1681.73" y="505.6" width="11.8" height="11.8" rx="1" fill="none" stroke="#ff00ff" stroke-width="2.5"/>
<rect x="1704.44" y="505.58" width="11.8" height="11.8" rx="1" fill="none" stroke="#ff00ff" stroke-width="2.5"/>
<path d="M983.6 554.4L1006.71 444.58L1029.83 211.55L1052.94 85.66L1076.06 82.45L1099.17 123.16L1122.29 170.84L1145.4 217.44L1168.52 259.77L1191.63 296.73L1214.75 327.26L1237.86 350.83L1260.98 370.65L1284.09 385.12L1307.2 397.98L1330.32 411.9L1353.43 424.76L1376.55 435.47L1399.66 445.12L1422.78 454.22L1445.89 462.8L1469.01 469.76L1492.12 475.65L1515.24 482.08L1538.35 487.44L1561.47 491.72L1584.58 495.21L1607.69 499.22L1630.81 502.44L1653.92 505.65L1677.04 507.79L1700.15 508.87L1723.27 509.94" fill="none" stroke="#0000ff" stroke-width="2.4" stroke-dasharray="2.5 2.6" clip-path="url(#clipR)"/>
<circle cx="983.6" cy="554.4" r="6.4" fill="none" stroke="#0000ff" stroke-width="2.5"/>
<circle cx="1006.71" cy="444.58" r="6.4" fill="none" stroke="#0000ff" stroke-width="2.5"/>
<circle cx="1029.83" cy="211.55" r="6.4" fill="none" stroke="#0000ff" stroke-width="2.5"/>
<circle cx="1052.94" cy="85.66" r="6.4" fill="none" stroke="#0000ff" stroke-width="2.5"/>
<circle cx="1076.06" cy="82.45" r="6.4" fill="none" stroke="#0000ff" stroke-width="2.5"/>
<circle cx="1099.17" cy="123.16" r="6.4" fill="none" stroke="#0000ff" stroke-width="2.5"/>
<circle cx="1122.29" cy="170.84" r="6.4" fill="none" stroke="#0000ff" stroke-width="2.5"/>
<circle cx="1145.4" cy="217.44" r="6.4" fill="none" stroke="#0000ff" stroke-width="2.5"/>
<circle cx="1168.52" cy="259.77" r="6.4" fill="none" stroke="#0000ff" stroke-width="2.5"/>
<circle cx="1191.63" cy="296.73" r="6.4" fill="none" stroke="#0000ff" stroke-width="2.5"/>
<circle cx="1214.75" cy="327.26" r="6.4" fill="none" stroke="#0000ff" stroke-width="2.5"/>
<circle cx="1237.86" cy="350.83" r="6.4" fill="none" stroke="#0000ff" stroke-width="2.5"/>
<circle cx="1260.98" cy="370.65" r="6.4" fill="none" stroke="#0000ff" stroke-width="2.5"/>
<circle cx="1284.09" cy="385.12" r="6.4" fill="none" stroke="#0000ff" stroke-width="2.5"/>
<circle cx="1307.2" cy="397.98" r="6.4" fill="none" stroke="#0000ff" stroke-width="2.5"/>
<circle cx="1330.32" cy="411.9" r="6.4" fill="none" stroke="#0000ff" stroke-width="2.5"/>
<circle cx="1353.43" cy="424.76" r="6.4" fill="none" stroke="#0000ff" stroke-width="2.5"/>
<circle cx="1376.55" cy="435.47" r="6.4" fill="none" stroke="#0000ff" stroke-width="2.5"/>
<circle cx="1399.66" cy="445.12" r="6.4" fill="none" stroke="#0000ff" stroke-width="2.5"/>
<circle cx="1422.78" cy="454.22" r="6.4" fill="none" stroke="#0000ff" stroke-width="2.5"/>
<circle cx="1445.89" cy="462.8" r="6.4" fill="none" stroke="#0000ff" stroke-width="2.5"/>
<circle cx="1469.01" cy="469.76" r="6.4" fill="none" stroke="#0000ff" stroke-width="2.5"/>
<circle cx="1492.12" cy="475.65" r="6.4" fill="none" stroke="#0000ff" stroke-width="2.5"/>
<circle cx="1515.24" cy="482.08" r="6.4" fill="none" stroke="#0000ff" stroke-width="2.5"/>
<circle cx="1538.35" cy="487.44" r="6.4" fill="none" stroke="#0000ff" stroke-width="2.5"/>
<circle cx="1561.47" cy="491.72" r="6.4" fill="none" stroke="#0000ff" stroke-width="2.5"/>
<circle cx="1584.58" cy="495.21" r="6.4" fill="none" stroke="#0000ff" stroke-width="2.5"/>
<circle cx="1607.69" cy="499.22" r="6.4" fill="none" stroke="#0000ff" stroke-width="2.5"/>
<circle cx="1630.81" cy="502.44" r="6.4" fill="none" stroke="#0000ff" stroke-width="2.5"/>
<circle cx="1653.92" cy="505.65" r="6.4" fill="none" stroke="#0000ff" stroke-width="2.5"/>
<circle cx="1677.04" cy="507.79" r="6.4" fill="none" stroke="#0000ff" stroke-width="2.5"/>
<circle cx="1700.15" cy="508.87" r="6.4" fill="none" stroke="#0000ff" stroke-width="2.5"/>
<circle cx="1723.27" cy="509.94" r="6.4" fill="none" stroke="#0000ff" stroke-width="2.5"/>
<path d="M983.6 554.4L1006.83 438.15L1030.07 200.84L1053.3 85.13L1076.54 82.45L1099.77 123.16L1123.01 170.84L1146.24 217.44L1169.48 259.77L1192.71 296.73L1215.95 327.26L1239.18 350.83L1262.42 370.65L1285.65 385.12L1308.89 397.98L1332.12 411.9L1355.36 424.76L1378.59 435.47L1401.82 445.12L1425.06 454.22L1448.29 462.8L1471.53 469.76L1494.76 475.65L1518 482.08L1541.23 487.44L1564.47 491.72L1587.7 495.21L1610.94 499.22L1634.17 502.44L1657.41 505.65L1680.64 507.79L1703.88 508.87L1727.11 509.94" fill="none" stroke="#ff0000" stroke-width="2.4" stroke-dasharray="2.5 2.6" clip-path="url(#clipR)"/>
<path d="M978.6 549.4L988.6 559.4M978.6 559.4L988.6 549.4" stroke="#ff0000" stroke-width="2.5" fill="none"/>
<path d="M1001.83 433.15L1011.83 443.15M1001.83 443.15L1011.83 433.15" stroke="#ff0000" stroke-width="2.5" fill="none"/>
<path d="M1025.07 195.84L1035.07 205.84M1025.07 205.84L1035.07 195.84" stroke="#ff0000" stroke-width="2.5" fill="none"/>
<path d="M1048.3 80.13L1058.3 90.13M1048.3 90.13L1058.3 80.13" stroke="#ff0000" stroke-width="2.5" fill="none"/>
<path d="M1071.54 77.45L1081.54 87.45M1071.54 87.45L1081.54 77.45" stroke="#ff0000" stroke-width="2.5" fill="none"/>
<path d="M1094.77 118.16L1104.77 128.16M1094.77 128.16L1104.77 118.16" stroke="#ff0000" stroke-width="2.5" fill="none"/>
<path d="M1118.01 165.84L1128.01 175.84M1118.01 175.84L1128.01 165.84" stroke="#ff0000" stroke-width="2.5" fill="none"/>
<path d="M1141.24 212.44L1151.24 222.44M1141.24 222.44L1151.24 212.44" stroke="#ff0000" stroke-width="2.5" fill="none"/>
<path d="M1164.48 254.77L1174.48 264.77M1164.48 264.77L1174.48 254.77" stroke="#ff0000" stroke-width="2.5" fill="none"/>
<path d="M1187.71 291.73L1197.71 301.73M1187.71 301.73L1197.71 291.73" stroke="#ff0000" stroke-width="2.5" fill="none"/>
<path d="M1210.95 322.26L1220.95 332.26M1210.95 332.26L1220.95 322.26" stroke="#ff0000" stroke-width="2.5" fill="none"/>
<path d="M1234.18 345.83L1244.18 355.83M1234.18 355.83L1244.18 345.83" stroke="#ff0000" stroke-width="2.5" fill="none"/>
<path d="M1257.42 365.65L1267.42 375.65M1257.42 375.65L1267.42 365.65" stroke="#ff0000" stroke-width="2.5" fill="none"/>
<path d="M1280.65 380.12L1290.65 390.12M1280.65 390.12L1290.65 380.12" stroke="#ff0000" stroke-width="2.5" fill="none"/>
<path d="M1303.89 392.98L1313.89 402.98M1303.89 402.98L1313.89 392.98" stroke="#ff0000" stroke-width="2.5" fill="none"/>
<path d="M1327.12 406.9L1337.12 416.9M1327.12 416.9L1337.12 406.9" stroke="#ff0000" stroke-width="2.5" fill="none"/>
<path d="M1350.36 419.76L1360.36 429.76M1350.36 429.76L1360.36 419.76" stroke="#ff0000" stroke-width="2.5" fill="none"/>
<path d="M1373.59 430.47L1383.59 440.47M1373.59 440.47L1383.59 430.47" stroke="#ff0000" stroke-width="2.5" fill="none"/>
<path d="M1396.82 440.12L1406.82 450.12M1396.82 450.12L1406.82 440.12" stroke="#ff0000" stroke-width="2.5" fill="none"/>
<path d="M1420.06 449.22L1430.06 459.22M1420.06 459.22L1430.06 449.22" stroke="#ff0000" stroke-width="2.5" fill="none"/>
<path d="M1443.29 457.8L1453.29 467.8M1443.29 467.8L1453.29 457.8" stroke="#ff0000" stroke-width="2.5" fill="none"/>
<path d="M1466.53 464.76L1476.53 474.76M1466.53 474.76L1476.53 464.76" stroke="#ff0000" stroke-width="2.5" fill="none"/>
<path d="M1489.76 470.65L1499.76 480.65M1489.76 480.65L1499.76 470.65" stroke="#ff0000" stroke-width="2.5" fill="none"/>
<path d="M1513 477.08L1523 487.08M1513 487.08L1523 477.08" stroke="#ff0000" stroke-width="2.5" fill="none"/>
<path d="M1536.23 482.44L1546.23 492.44M1536.23 492.44L1546.23 482.44" stroke="#ff0000" stroke-width="2.5" fill="none"/>
<path d="M1559.47 486.72L1569.47 496.72M1559.47 496.72L1569.47 486.72" stroke="#ff0000" stroke-width="2.5" fill="none"/>
<path d="M1582.7 490.21L1592.7 500.21M1582.7 500.21L1592.7 490.21" stroke="#ff0000" stroke-width="2.5" fill="none"/>
<path d="M1605.94 494.22L1615.94 504.22M1605.94 504.22L1615.94 494.22" stroke="#ff0000" stroke-width="2.5" fill="none"/>
<path d="M1629.17 497.44L1639.17 507.44M1629.17 507.44L1639.17 497.44" stroke="#ff0000" stroke-width="2.5" fill="none"/>
<path d="M1652.41 500.65L1662.41 510.65M1652.41 510.65L1662.41 500.65" stroke="#ff0000" stroke-width="2.5" fill="none"/>
<path d="M1675.64 502.79L1685.64 512.79M1675.64 512.79L1685.64 502.79" stroke="#ff0000" stroke-width="2.5" fill="none"/>
<path d="M1698.88 503.87L1708.88 513.87M1698.88 513.87L1708.88 503.87" stroke="#ff0000" stroke-width="2.5" fill="none"/>
<path d="M1722.11 504.94L1732.11 514.94M1722.11 514.94L1732.11 504.94" stroke="#ff0000" stroke-width="2.5" fill="none"/>
<path d="M983.6 554.4L1006.83 447.26L1030.07 208.87L1053.3 85.13L1076.54 84.59L1099.77 129.59L1123.01 176.73L1146.24 222.27L1169.48 264.05L1192.71 299.94L1215.95 329.41L1239.18 352.44L1262.42 371.73L1285.65 386.73L1308.89 400.12L1332.12 413.51L1355.36 425.83L1378.59 436.55L1401.82 446.19L1425.06 454.76L1448.29 462.8L1471.53 469.76L1494.76 476.19L1518 482.08L1541.23 487.44L1564.47 491.72L1587.7 495.47L1610.94 499.22L1634.17 502.44L1657.41 505.12L1680.64 507.26L1703.88 508.87L1727.11 509.94" fill="none" stroke="#000" stroke-width="2.3" stroke-linejoin="round" clip-path="url(#clipR)"/>
<text x="977.35" y="584" font-size="27" font-family="'Liberation Serif', serif" textLength="12.51" lengthAdjust="spacingAndGlyphs">0</text>
<text x="1079.86" y="584" font-size="27" font-family="'Liberation Serif', serif" textLength="25.71" lengthAdjust="spacingAndGlyphs">20</text>
<text x="1189.68" y="584" font-size="27" font-family="'Liberation Serif', serif" textLength="25.04" lengthAdjust="spacingAndGlyphs">40</text>
<text x="1298.25" y="584" font-size="27" font-family="'Liberation Serif', serif" textLength="25.68" lengthAdjust="spacingAndGlyphs">60</text>
<text x="1407.57" y="584" font-size="27" font-family="'Liberation Serif', serif" textLength="25.55" lengthAdjust="spacingAndGlyphs">80</text>
<text x="1509.62" y="584" font-size="27" font-family="'Liberation Serif', serif" textLength="38.54" lengthAdjust="spacingAndGlyphs">100</text>
<text x="1618.81" y="584" font-size="27" font-family="'Liberation Serif', serif" textLength="38.54" lengthAdjust="spacingAndGlyphs">120</text>
<text x="1727.99" y="584" font-size="27" font-family="'Liberation Serif', serif" textLength="38.54" lengthAdjust="spacingAndGlyphs">140</text>
<text x="963.15" y="561" font-size="27" font-family="'Liberation Serif', serif" textLength="12.51" lengthAdjust="spacingAndGlyphs">0</text>
<text x="962.57" y="293.15" font-size="27" font-family="'Liberation Serif', serif" textLength="13.16" lengthAdjust="spacingAndGlyphs">5</text>
<text x="948.73" y="25.3" font-size="27" font-family="'Liberation Serif', serif" textLength="27" lengthAdjust="spacingAndGlyphs">10</text>
<text x="443.31" y="622.5" font-size="32" font-family="'Liberation Serif', serif">y</text>
<text x="462.41" y="614.3" font-size="30" font-family="'Liberation Serif', serif">+</text>
<text x="1346.91" y="622.5" font-size="32" font-family="'Liberation Serif', serif">y</text>
<text x="1366.01" y="614.3" font-size="30" font-family="'Liberation Serif', serif">+</text>
<g transform="translate(30.9 320) rotate(-90)">
<text transform="translate(-2.78 0) scale(0.9 1)" x="0" y="2.94" font-size="38.4" font-family="'DejaVu Serif', serif" stroke="#fff" stroke-width="0.9">⟨</text>
<text x="11.09" y="0" font-size="31" font-family="'Liberation Serif', serif">u</text>
<text x="29.31" y="-8.5" font-size="30" font-family="'Liberation Serif', serif">+</text>
<text x="28.31" y="7.8" font-size="22" font-family="'Liberation Serif', serif">x</text>
<text transform="translate(46.75 0) scale(0.99 1)" x="0" y="2.94" font-size="38.4" font-family="'DejaVu Serif', serif" stroke="#fff" stroke-width="0.9">⟩</text>
<text x="62.58" y="3.7" font-size="22.3" font-family="'Liberation Serif', serif">t</text>
</g>
<g transform="translate(934.3 347) rotate(-90)">
<text transform="translate(-2.6 0) scale(1.07 1)" x="0" y="2.41" font-size="37.84" font-family="'DejaVu Serif', serif" stroke="#fff" stroke-width="0.9">⟨</text>
<text x="12.54" y="0" font-size="31" font-family="'Liberation Serif', serif" textLength="13.84" lengthAdjust="spacingAndGlyphs">u</text>
<text x="29.13" y="1.2" font-size="40" font-family="'Liberation Serif', serif">′</text>
<text x="36.83" y="-8.18" font-size="29.5" font-family="'Liberation Serif', serif">+</text>
<text x="30.31" y="7.1" font-size="21.5" font-family="'Liberation Serif', serif">x</text>
<text x="60.14" y="0" font-size="31" font-family="'Liberation Serif', serif" textLength="13.84" lengthAdjust="spacingAndGlyphs">u</text>
<text x="74.23" y="1.2" font-size="40" font-family="'Liberation Serif', serif">′</text>
<text x="81.83" y="-8.18" font-size="29.5" font-family="'Liberation Serif', serif">+</text>
<text x="76.01" y="7.1" font-size="21.5" font-family="'Liberation Serif', serif">x</text>
<text transform="translate(99.57 0) scale(0.93 1)" x="0" y="2.41" font-size="37.84" font-family="'DejaVu Serif', serif" stroke="#fff" stroke-width="0.9">⟩</text>
<text x="115.68" y="3.9" font-size="22.3" font-family="'Liberation Serif', serif">t</text>
</g>
<rect x="500.9" y="273.9" width="333" height="269.8" fill="#fff" stroke="#2a2a2a" stroke-width="1.1"/>
<path d="M506.1 294.3H544.5" stroke="#00ff00" stroke-width="2.4" stroke-dasharray="2.5 2.6"/>
<path d="M524.4 287.3V301.3M517.4 294.3H531.4M519.5 289.4L529.3 299.2M519.5 299.2L529.3 289.4" stroke="#00ff00" stroke-width="2.5" stroke-linecap="round" fill="none"/>
<text x="549.12" y="301.9" font-size="32" font-family="'Liberation Serif', serif" textLength="43.9" lengthAdjust="spacingAndGlyphs">DA</text><text x="605.05" y="301.9" font-size="32" font-family="'Liberation Serif', serif" textLength="14.2" lengthAdjust="spacingAndGlyphs">4</text><text x="630.44" y="301.9" font-size="32" font-family="'Liberation Serif', serif" textLength="39.1" lengthAdjust="spacingAndGlyphs">dw</text><text x="670.01" y="301.9" font-size="32" font-family="'Liberation Serif', serif" textLength="24.85" lengthAdjust="spacingAndGlyphs">=</text><text x="693.1" y="301.9" font-size="32" font-family="'Liberation Serif', serif" textLength="31.85" lengthAdjust="spacingAndGlyphs">16</text>
<path d="M506.1 332.25H544.5" stroke="#ff00ff" stroke-width="2.4" stroke-dasharray="2.5 2.6"/>
<rect x="518.5" y="326.35" width="11.8" height="11.8" rx="1" fill="none" stroke="#ff00ff" stroke-width="2.5"/>
<text x="549.12" y="339.85" font-size="32" font-family="'Liberation Serif', serif" textLength="43.9" lengthAdjust="spacingAndGlyphs">DA</text><text x="605.05" y="339.85" font-size="32" font-family="'Liberation Serif', serif" textLength="14.2" lengthAdjust="spacingAndGlyphs">4</text><text x="630.44" y="339.85" font-size="32" font-family="'Liberation Serif', serif" textLength="39.1" lengthAdjust="spacingAndGlyphs">dw</text><text x="670.01" y="339.85" font-size="32" font-family="'Liberation Serif', serif" textLength="24.85" lengthAdjust="spacingAndGlyphs">=</text><text x="694.74" y="339.85" font-size="32" font-family="'Liberation Serif', serif" textLength="15.22" lengthAdjust="spacingAndGlyphs">8</text>
<path d="M506.1 370.2H544.5" stroke="#0000ff" stroke-width="2.4" stroke-dasharray="2.5 2.6"/>
<circle cx="524.4" cy="370.2" r="7.1" fill="none" stroke="#0000ff" stroke-width="2.5"/>
<text x="549.12" y="377.8" font-size="32" font-family="'Liberation Serif', serif" textLength="43.9" lengthAdjust="spacingAndGlyphs">DA</text><text x="605.05" y="377.8" font-size="32" font-family="'Liberation Serif', serif" textLength="14.2" lengthAdjust="spacingAndGlyphs">4</text><text x="630.44" y="377.8" font-size="32" font-family="'Liberation Serif', serif" textLength="39.1" lengthAdjust="spacingAndGlyphs">dw</text><text x="670.01" y="377.8" font-size="32" font-family="'Liberation Serif', serif" textLength="24.85" lengthAdjust="spacingAndGlyphs">=</text><text x="694.09" y="377.8" font-size="32" font-family="'Liberation Serif', serif" textLength="15.7" lengthAdjust="spacingAndGlyphs">4</text>
<path d="M506.1 408.15H544.5" stroke="#ff0000" stroke-width="2.4" stroke-dasharray="2.5 2.6"/>
<path d="M518.6 402.35L530.2 413.95M518.6 413.95L530.2 402.35" stroke="#ff0000" stroke-width="2.5" fill="none"/>
<text x="549.12" y="415.75" font-size="32" font-family="'Liberation Serif', serif" textLength="43.9" lengthAdjust="spacingAndGlyphs">DA</text><text x="605.05" y="415.75" font-size="32" font-family="'Liberation Serif', serif" textLength="14.2" lengthAdjust="spacingAndGlyphs">4</text><text x="630.44" y="415.75" font-size="32" font-family="'Liberation Serif', serif" textLength="39.1" lengthAdjust="spacingAndGlyphs">dw</text><text x="670.01" y="415.75" font-size="32" font-family="'Liberation Serif', serif" textLength="24.85" lengthAdjust="spacingAndGlyphs">=</text><text x="694.56" y="415.75" font-size="32" font-family="'Liberation Serif', serif" textLength="15.22" lengthAdjust="spacingAndGlyphs">2</text>
<path d="M506.1 446.1H544.5" stroke="#000" stroke-width="2.4"/>
<text x="549.07" y="453.7" font-size="32" font-family="'Liberation Serif', serif" textLength="64.42" lengthAdjust="spacingAndGlyphs">DNS</text><text x="623.47" y="453.7" font-size="32" font-family="'Liberation Serif', serif" textLength="123.64" lengthAdjust="spacingAndGlyphs">65x65x65</text>
<path d="M506.1 484.05H544.5" stroke="#000" stroke-width="2" stroke-dasharray="12.8 7.7"/>
<text x="549.9" y="491.65" font-size="32" font-family="'Liberation Serif', serif" textLength="15.33" lengthAdjust="spacingAndGlyphs">u</text><text x="566.59" y="484.15" font-size="25.5" font-family="'Liberation Serif', serif" textLength="16" lengthAdjust="spacingAndGlyphs">+</text><text x="592.18" y="491.65" font-size="32" font-family="'Liberation Serif', serif" textLength="26.3" lengthAdjust="spacingAndGlyphs">=</text><text x="625.31" y="491.65" font-size="32" font-family="'Liberation Serif', serif" textLength="39.42" lengthAdjust="spacingAndGlyphs">2.5</text><text x="671.52" y="491.65" font-size="32" font-family="'Liberation Serif', serif" textLength="37.14" lengthAdjust="spacingAndGlyphs">log</text><text x="716.27" y="491.65" font-size="32" font-family="'Liberation Serif', serif" textLength="13.64" lengthAdjust="spacingAndGlyphs">y</text><text x="734.18" y="484.15" font-size="25.5" font-family="'Liberation Serif', serif" textLength="14.91" lengthAdjust="spacingAndGlyphs">+</text><text x="757.8" y="491.65" font-size="32" font-family="'Liberation Serif', serif" textLength="23.75" lengthAdjust="spacingAndGlyphs">+</text><text x="784.3" y="491.65" font-size="32" font-family="'Liberation Serif', serif" textLength="43.63" lengthAdjust="spacingAndGlyphs">7.0</text>
<path d="M506.1 522H544.5" stroke="#000" stroke-width="2" stroke-dasharray="10.5 3.6 3 3.6"/>
<text x="549.9" y="529.6" font-size="32" font-family="'Liberation Serif', serif" textLength="15.33" lengthAdjust="spacingAndGlyphs">u</text><text x="566.59" y="522.1" font-size="25.5" font-family="'Liberation Serif', serif" textLength="16" lengthAdjust="spacingAndGlyphs">+</text><text x="592.18" y="529.6" font-size="32" font-family="'Liberation Serif', serif" textLength="26.3" lengthAdjust="spacingAndGlyphs">=</text><text x="626.37" y="529.6" font-size="32" font-family="'Liberation Serif', serif" textLength="13.64" lengthAdjust="spacingAndGlyphs">y</text><text x="644.28" y="522.1" font-size="25.5" font-family="'Liberation Serif', serif" textLength="14.91" lengthAdjust="spacingAndGlyphs">+</text>
<rect x="1484.1" y="188.9" width="253.2" height="194.1" fill="#fff" stroke="#2a2a2a" stroke-width="1.1"/>
<path d="M1489.3 209.7H1527.7" stroke="#00ff00" stroke-width="2.4" stroke-dasharray="2.5 2.6"/>
<path d="M1507.6 202.7V216.7M1500.6 209.7H1514.6M1502.7 204.8L1512.5 214.6M1502.7 214.6L1512.5 204.8" stroke="#00ff00" stroke-width="2.5" stroke-linecap="round" fill="none"/>
<text x="1532.32" y="217.3" font-size="32" font-family="'Liberation Serif', serif" textLength="43.9" lengthAdjust="spacingAndGlyphs">DA</text><text x="1588.25" y="217.3" font-size="32" font-family="'Liberation Serif', serif" textLength="14.2" lengthAdjust="spacingAndGlyphs">4</text><text x="1613.64" y="217.3" font-size="32" font-family="'Liberation Serif', serif" textLength="39.1" lengthAdjust="spacingAndGlyphs">dw</text><text x="1653.21" y="217.3" font-size="32" font-family="'Liberation Serif', serif" textLength="24.85" lengthAdjust="spacingAndGlyphs">=</text><text x="1676.3" y="217.3" font-size="32" font-family="'Liberation Serif', serif" textLength="31.85" lengthAdjust="spacingAndGlyphs">16</text>
<path d="M1489.3 247.9H1527.7" stroke="#ff00ff" stroke-width="2.4" stroke-dasharray="2.5 2.6"/>
<rect x="1501.7" y="242" width="11.8" height="11.8" rx="1" fill="none" stroke="#ff00ff" stroke-width="2.5"/>
<text x="1532.32" y="255.5" font-size="32" font-family="'Liberation Serif', serif" textLength="43.9" lengthAdjust="spacingAndGlyphs">DA</text><text x="1588.25" y="255.5" font-size="32" font-family="'Liberation Serif', serif" textLength="14.2" lengthAdjust="spacingAndGlyphs">4</text><text x="1613.64" y="255.5" font-size="32" font-family="'Liberation Serif', serif" textLength="39.1" lengthAdjust="spacingAndGlyphs">dw</text><text x="1653.21" y="255.5" font-size="32" font-family="'Liberation Serif', serif" textLength="24.85" lengthAdjust="spacingAndGlyphs">=</text><text x="1677.94" y="255.5" font-size="32" font-family="'Liberation Serif', serif" textLength="15.22" lengthAdjust="spacingAndGlyphs">8</text>
<path d="M1489.3 286.1H1527.7" stroke="#0000ff" stroke-width="2.4" stroke-dasharray="2.5 2.6"/>
<circle cx="1507.6" cy="286.1" r="7.1" fill="none" stroke="#0000ff" stroke-width="2.5"/>
<text x="1532.32" y="293.7" font-size="32" font-family="'Liberation Serif', serif" textLength="43.9" lengthAdjust="spacingAndGlyphs">DA</text><text x="1588.25" y="293.7" font-size="32" font-family="'Liberation Serif', serif" textLength="14.2" lengthAdjust="spacingAndGlyphs">4</text><text x="1613.64" y="293.7" font-size="32" font-family="'Liberation Serif', serif" textLength="39.1" lengthAdjust="spacingAndGlyphs">dw</text><text x="1653.21" y="293.7" font-size="32" font-family="'Liberation Serif', serif" textLength="24.85" lengthAdjust="spacingAndGlyphs">=</text><text x="1677.29" y="293.7" font-size="32" font-family="'Liberation Serif', serif" textLength="15.7" lengthAdjust="spacingAndGlyphs">4</text>
<path d="M1489.3 324.3H1527.7" stroke="#ff0000" stroke-width="2.4" stroke-dasharray="2.5 2.6"/>
<path d="M1501.8 318.5L1513.4 330.1M1501.8 330.1L1513.4 318.5" stroke="#ff0000" stroke-width="2.5" fill="none"/>
<text x="1532.32" y="331.9" font-size="32" font-family="'Liberation Serif', serif" textLength="43.9" lengthAdjust="spacingAndGlyphs">DA</text><text x="1588.25" y="331.9" font-size="32" font-family="'Liberation Serif', serif" textLength="14.2" lengthAdjust="spacingAndGlyphs">4</text><text x="1613.64" y="331.9" font-size="32" font-family="'Liberation Serif', serif" textLength="39.1" lengthAdjust="spacingAndGlyphs">dw</text><text x="1653.21" y="331.9" font-size="32" font-family="'Liberation Serif', serif" textLength="24.85" lengthAdjust="spacingAndGlyphs">=</text><text x="1677.76" y="331.9" font-size="32" font-family="'Liberation Serif', serif" textLength="15.22" lengthAdjust="spacingAndGlyphs">2</text>
<path d="M1489.3 362.5H1527.7" stroke="#000" stroke-width="2.4"/>
<text x="1532.27" y="370.1" font-size="32" font-family="'Liberation Serif', serif" textLength="64.42" lengthAdjust="spacingAndGlyphs">DNS</text><text x="1606.67" y="370.1" font-size="32" font-family="'Liberation Serif', serif" textLength="123.64" lengthAdjust="spacingAndGlyphs">65x65x65</text>
</svg>
</body></html>
